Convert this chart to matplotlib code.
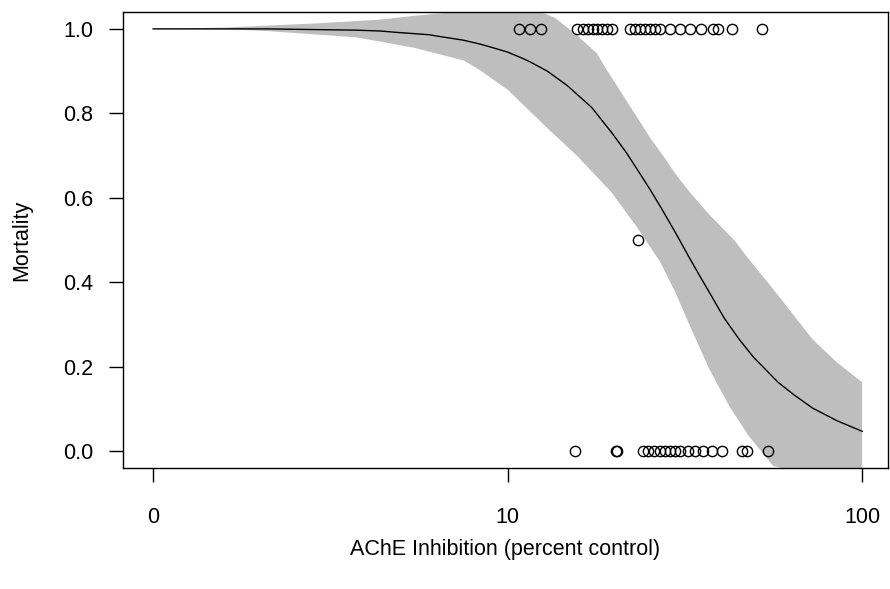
import numpy as np
import matplotlib
matplotlib.use("Agg")
import matplotlib.pyplot as plt

plt.rcParams['font.family'] = ['Liberation Sans', 'DejaVu Sans']

# Observed data (AChE inhibition, percent control) -----------------------
ache_dead = [10.8, 11.6, 12.4, 15.7, 16.3, 16.9, 17.4, 17.9, 18.4, 19.1, 19.7,
             22.2, 22.9, 23.7, 24.4, 25.2, 26.1, 26.9, 28.7, 30.6, 32.7, 35.2,
             38.0, 39.3, 43.0, 52.2]
ache_alive = [15.5, 20.2, 20.4, 24.1, 24.9, 25.8, 26.9, 27.8, 28.7, 29.6, 30.6,
              32.3, 33.8, 35.6, 37.8, 40.3, 45.8, 47.4, 54.3]
ache_half = [23.3]
mort_dead = [1.0] * len(ache_dead)
mort_alive = [0.0] * len(ache_alive)
mort_half = [0.5]

# Fitted curve -----------------------------------------------------------
fit_x = [1.0, 2.09, 3.73, 4.37, 4.82, 6.04, 6.21, 7.53, 8.36, 9.12, 10.0, 11.04,
         11.56, 12.94, 14.72, 17.26, 19.63, 21.58, 23.71, 25.29, 26.98, 29.72,
         32.66, 34.83, 37.07, 40.83, 44.98, 49.43, 57.94, 63.83, 72.44, 84.92, 100.0]
fit_y = [1.0, 1.0, 0.997, 0.995, 0.992, 0.986, 0.984, 0.973, 0.964, 0.955, 0.945,
         0.930, 0.922, 0.900, 0.866, 0.814, 0.755, 0.708, 0.655, 0.618, 0.579,
         0.518, 0.456, 0.415, 0.376, 0.315, 0.265, 0.222, 0.163, 0.135, 0.102,
         0.072, 0.047]

# Confidence band --------------------------------------------------------
upper_x = [1.0, 1.585, 2.89, 4.37, 5.62, 7.35, 8.91, 11.75, 12.94, 13.61, 15.67,
           17.82, 18.97, 20.89, 23.01, 25.29, 27.86, 29.72, 32.66, 37.07, 43.55,
           47.86, 56.10, 72.44, 84.92, 100.0]
upper_y = [1.0, 1.003, 1.013, 1.022, 1.032, 1.041, 1.05, 1.045, 1.034, 1.026,
           0.985, 0.943, 0.905, 0.850, 0.795, 0.741, 0.692, 0.657, 0.613, 0.560,
           0.500, 0.455, 0.384, 0.265, 0.210, 0.163]
lower_x = [1.0, 1.585, 2.09, 3.73, 4.37, 5.47, 7.53, 8.36, 10.0, 12.94, 15.67,
           19.63, 23.01, 26.98, 29.72, 32.66, 37.07, 42.17, 47.86, 56.10, 72.44,
           84.92, 100.0]
lower_y = [1.0, 0.999, 0.995, 0.980, 0.970, 0.955, 0.925, 0.902, 0.856, 0.765,
           0.700, 0.613, 0.534, 0.447, 0.376, 0.297, 0.194, 0.107, 0.036, -0.035,
           -0.057, -0.062, -0.069]

x_ticks = [1, 10, 100]
x_tick_labels = ["0", "10", "100"]
y_ticks = [0.0, 0.2, 0.4, 0.6, 0.8, 1.0]

FS = 15.5

fig = plt.figure(figsize=(8.9, 5.89), dpi=100)
ax = fig.add_axes([123/890, 1 - 468/589, (888 - 123)/890, (468 - 12)/589])

poly_x = upper_x + lower_x[::-1]
poly_y = upper_y + lower_y[::-1]
ax.fill(poly_x, poly_y, color="#BEBEBE", linewidth=0, zorder=1)
ax.plot(fit_x, fit_y, color="black", linewidth=1.0, zorder=2)

for xs, ys in ((ache_dead, mort_dead), (ache_alive, mort_alive), (ache_half, mort_half)):
    ax.plot(xs, ys, linestyle="none", marker="o", markersize=7.4,
            markerfacecolor="none", markeredgecolor="black", markeredgewidth=1.0,
            zorder=3)

ax.set_xscale("log")
ax.set_xlim(10 ** -0.085, 10 ** 2.073)
ax.set_ylim(-0.04, 1.04)
ax.set_xticks(x_ticks)
ax.set_xticklabels(x_tick_labels)
ax.xaxis.set_minor_locator(matplotlib.ticker.NullLocator())
ax.set_yticks(y_ticks)
ax.set_yticklabels([f"{v:.1f}" for v in y_ticks])

for s in ax.spines.values():
    s.set_linewidth(1.0)
    s.set_color("black")
ax.tick_params(axis="both", direction="out", length=10, width=1.0,
               labelsize=FS, colors="black")
ax.tick_params(axis="x", pad=18)
ax.tick_params(axis="y", pad=11.5)

ax.set_xlabel("AChE Inhibition (percent control)", fontsize=FS, va="center")
ax.xaxis.set_label_coords(0.5, (468 - 550) / 456)
ax.set_ylabel("Mortality", fontsize=FS, va="center")
ax.yaxis.set_label_coords((22 - 123) / 765, 0.5)

fig.savefig("out.png", dpi=100)
